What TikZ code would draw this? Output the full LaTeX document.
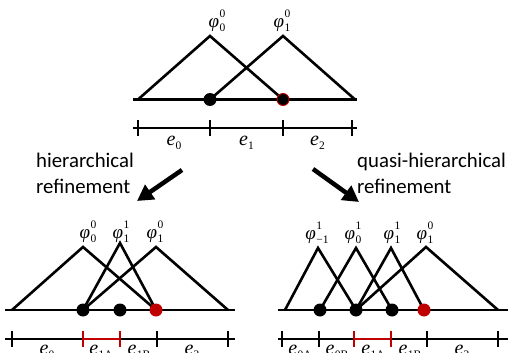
\documentclass[tikz,border=0pt]{standalone}
\usepackage{fontspec}
\setmainfont{Liberation Serif}
\newfontfamily\carl{Carlito}
\usetikzlibrary{arrows.meta}
\definecolor{dred}{RGB}{192,0,0}
\newcommand\scr[1]{{\fontsize{11.5}{11.5}\selectfont #1}}
\newcommand\phiv[2]{{\itshape φ}\kern0.3pt\rlap{\raisebox{10pt}{\scr{#1}}}\raisebox{-4pt}{\scr{#2}}}
\newcommand\elab[1]{{\itshape e}\kern0.3pt\raisebox{-4pt}{\scr{#1}}}
\tikzset{
  hat/.style={line width=2.6pt, line join=miter},
  axis/.style={line width=2.6pt},
  bar/.style={line width=2.6pt},
  tick/.style={line width=2.8pt},
  redbar/.style={line width=2.6pt, draw=dred},
  dot/.style={circle, fill=black, minimum size=13pt, inner sep=0pt},
  rdot/.style={circle, fill=black, draw=dred, line width=0.9pt, minimum size=12pt, inner sep=0pt},
  rrdot/.style={circle, fill=dred, minimum size=13pt, inner sep=0pt},
  flab/.style={anchor=base, inner sep=0pt, font=\fontsize{19}{19}\selectfont},
  elabel/.style={anchor=base, inner sep=0pt, font=\fontsize{20}{20}\selectfont},
  stxt/.style={anchor=base west, inner sep=0pt, font=\carl\fontsize{20.8}{26}\selectfont},
  bigarrow/.style={line width=4.5pt, -{Triangle[length=16pt,width=17pt]}}
}
\begin{document}
\begin{tikzpicture}[x=1pt,y=-1pt]
\useasboundingbox (0,0) rectangle (509,353);
% ---------- top ----------
\coordinate (tL) at (133,99.5); \coordinate (tR) at (357,99.5);
\draw[axis] (tL) -- (tR);
\coordinate (ta) at (138,99.5); \coordinate (tb) at (210,99.5);
\coordinate (tc) at (283,99.5); \coordinate (td) at (355,99.5);
\coordinate (tp0) at (210,36); \coordinate (tp1) at (283,36);
\draw[hat] (ta) -- (tp0) -- (tc);
\draw[hat] (tb) -- (tp1) -- (td);
\node[dot] (tdot1) at (tb) {};
\node[rdot] (tdot2) at (tc) {};
\node[flab] (tl0) at (217,28) {\phiv{0}{0}};
\node[flab] (tl1) at (282,28) {\phiv{0}{1}};
% top element bar
\coordinate (tbL) at (133,128); \coordinate (tbR) at (357,128);
\draw[bar] (tbL) -- (tbR);
\foreach \x/\n in {138/t1,210/t2,283/t3,352/t4} {
  \coordinate (\n u) at (\x,120); \coordinate (\n d) at (\x,136);
  \draw[tick] (\n u) -- (\n d);
}
\node[elabel] (te0) at (174,146) {\elab{0}};
\node[elabel] (te1) at (246.5,146) {\elab{1}};
\node[elabel] (te2) at (317.5,146) {\elab{2}};
% ---------- text and arrows ----------
\node[stxt] (h1) at (36,167) {hierarchical};
\node[stxt] (h2) at (36,193) {refinement};
\node[stxt] (q1) at (357,167) {quasi-hierarchical};
\node[stxt] (q2) at (357,193) {refinement};
\coordinate (la1) at (182,170); \coordinate (la2) at (137,201);
\coordinate (ra1) at (313,169); \coordinate (ra2) at (359,202);
\draw[bigarrow] (la1) -- (la2);
\draw[bigarrow] (ra1) -- (ra2);
% ---------- bottom left ----------
\coordinate (lL) at (5,310); \coordinate (lR) at (235,310);
\draw[axis] (lL) -- (lR);
\coordinate (l0) at (12,310); \coordinate (l1) at (83,310);
\coordinate (l2) at (120,310); \coordinate (l3) at (156,310); \coordinate (l4) at (228,310);
\coordinate (lp0) at (83,247); \coordinate (lp1) at (120,243); \coordinate (lp2) at (156,247);
\draw[hat] (l0) -- (lp0) -- (l3);
\draw[hat] (l1) -- (lp1) -- (l3);
\draw[hat] (l1) -- (lp2) -- (l4);
\node[dot] (ld1) at (l1) {};
\node[dot] (ld2) at (l2) {};
\node[rrdot] (ld3) at (l3) {};
\node[flab] (ll0) at (88,238) {\phiv{0}{0}};
\node[flab] (ll1) at (121,238) {\phiv{1}{1}};
\node[flab] (ll2) at (155,238) {\phiv{0}{1}};
\coordinate (lbL) at (5,339); \coordinate (lbR) at (235,339);
\coordinate (lb1) at (83,339); \coordinate (lb2) at (120,339);
\draw[bar] (lbL) -- (lbR);
\draw[redbar] (lb1) -- (lb2);
\foreach \x/\n in {12/l1,228/l5,157/l4} {
  \coordinate (\n u) at (\x,331); \coordinate (\n d) at (\x,347);
  \draw[tick] (\n u) -- (\n d);
}
\foreach \x/\n in {83/l2,120/l3} {
  \coordinate (\n u) at (\x,331); \coordinate (\n d) at (\x,347);
  \draw[tick,draw=dred] (\n u) -- (\n d);
}
\node[elabel] (le0) at (47,354) {\elab{0}};
\node[elabel] (le1) at (101,354) {\elab{1A}};
\node[elabel] (le2) at (139,354) {\elab{1B}};
\node[elabel] (le3) at (192,354) {\elab{2}};
% ---------- bottom right ----------
\coordinate (rL) at (278,310); \coordinate (rR) at (508,310);
\draw[axis] (rL) -- (rR);
\coordinate (r0) at (285,310); \coordinate (r1) at (320,310); \coordinate (r2) at (356,310);
\coordinate (r3) at (392,310); \coordinate (r4) at (424,310); \coordinate (r5) at (498,310);
\coordinate (rp0) at (318,248); \coordinate (rp1) at (356,248);
\coordinate (rp2) at (391,248); \coordinate (rp3) at (426,247);
\draw[hat] (r0) -- (rp0) -- (r2);
\draw[hat] (r1) -- (rp1) -- (r3);
\draw[hat] (r2) -- (rp2) -- (r4);
\draw[hat] (r2) -- (rp3) -- (r5);
\node[dot] (rd1) at (r1) {};
\node[dot] (rd2) at (r2) {};
\node[dot] (rd3) at (r3) {};
\node[rrdot] (rd4) at (r4) {};
\node[flab] (rl0) at (317,239) {\phiv{1}{\char"2212 1}};
\node[flab] (rl1) at (353,239) {\phiv{1}{0}};
\node[flab] (rl2) at (392,239) {\phiv{1}{1}};
\node[flab] (rl3) at (425,239) {\phiv{0}{1}};
\coordinate (rbL) at (278,339); \coordinate (rbR) at (508,339);
\coordinate (rb1) at (354,339); \coordinate (rb2) at (391,339);
\draw[bar] (rbL) -- (rbR);
\draw[redbar] (rb1) -- (rb2);
\foreach \x/\n in {282/r1,319/r2,427/r5,498/r6} {
  \coordinate (\n u) at (\x,331); \coordinate (\n d) at (\x,347);
  \draw[tick] (\n u) -- (\n d);
}
\foreach \x/\n in {354/r3,391/r4} {
  \coordinate (\n u) at (\x,331); \coordinate (\n d) at (\x,347);
  \draw[tick,draw=dred] (\n u) -- (\n d);
}
\node[elabel] (re0) at (300,354) {\elab{0A}};
\node[elabel] (re1) at (337,354) {\elab{0B}};
\node[elabel] (re2) at (373,354) {\elab{1A}};
\node[elabel] (re3) at (410,354) {\elab{1B}};
\node[elabel] (re4) at (462,354) {\elab{2}};
\end{tikzpicture}
\end{document}
